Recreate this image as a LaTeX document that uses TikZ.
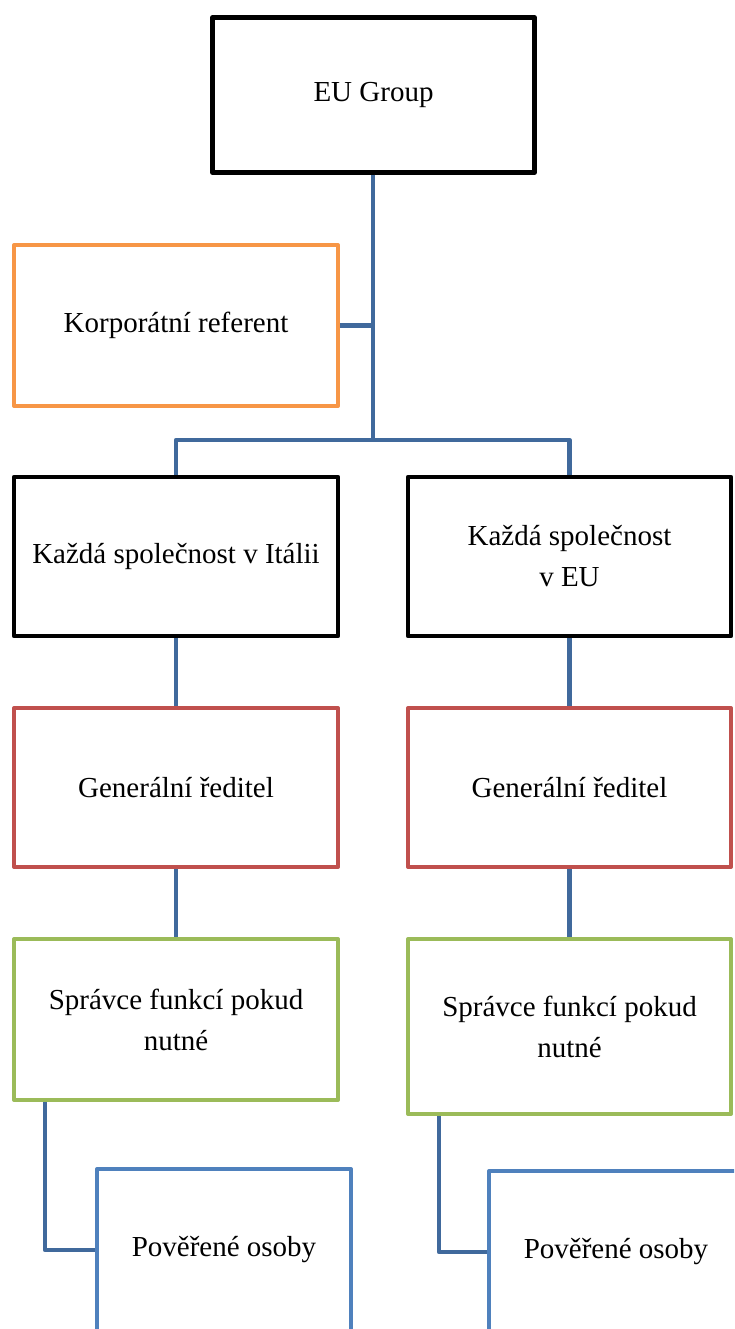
\documentclass[tikz,border=0pt]{standalone}
\usepackage{fontspec}
\setmainfont{Liberation Serif}
\definecolor{conn}{HTML}{40699C}
\definecolor{korp}{HTML}{F79646}
\definecolor{red1}{HTML}{C0504D}
\definecolor{grn1}{HTML}{9BBB59}
\definecolor{blu1}{HTML}{4F81BD}
\begin{document}
\begin{tikzpicture}[x=1pt,y=-1pt,
  box/.style={draw,rectangle,fill=white,align=center,inner sep=0pt,
    font=\fontsize{29}{41}\selectfont,text=black,line join=round},
  blackbox/.style={box,draw=black,line width=4.5pt},
  cbox/.style={box,line width=4pt},
  link/.style={draw=conn,line width=4.5pt,line join=round}]
\useasboundingbox (0,0) rectangle (734,1329);
\clip (0,0) rectangle (734,1329);
\node[blackbox,minimum width=322,minimum height=155] (eu) at (373.5,95) {EU Group};
\node[cbox,draw=korp,minimum width=324,minimum height=161] (korp) at (176,325.5) {Korporátní referent};
\node[blackbox,minimum width=324,minimum height=159] (itL) at (176,556.5) {Každá společnost v Itálii};
\node[blackbox,minimum width=323,minimum height=159] (euR) at (569.5,556.5) {Každá společnost\\v EU};
\node[cbox,draw=red1,minimum width=324,minimum height=159] (gL) at (176,787.5) {Generální ředitel};
\node[cbox,draw=red1,minimum width=323,minimum height=159] (gR) at (569.5,787.5) {Generální ředitel};
\node[cbox,draw=grn1,minimum width=324,minimum height=161] (sL) at (176,1019.5) {Správce funkcí pokud\\nutné};
\node[cbox,draw=grn1,minimum width=323,minimum height=175] (sR) at (569.5,1026.5) {Správce funkcí pokud\\nutné};
\node[cbox,draw=blu1,minimum width=254,minimum height=162] (pL) at (224,1250) {Pověřené osoby};
\node[cbox,draw=blu1,minimum width=254,minimum height=162] (pR) at (616,1252) {Pověřené osoby};
\coordinate (split) at (373,440);
\coordinate (cL) at (45,1102);
\coordinate (cR) at (439,1116);
\path[link] (eu.south -| split) -- (split);
\path[link] (korp.east) -- (korp.east -| split);
\path[link] (itL.north) |- (split) -| (euR.north);
\path[link] (itL.south) -- (gL.north);
\path[link] (gL.south) -- (sL.north);
\path[link] (euR.south) -- (gR.north);
\path[link] (gR.south) -- (sR.north);
\path[link] (cL) |- (pL.west);
\path[link] (cR) |- (pR.west);
\end{tikzpicture}
\end{document}
